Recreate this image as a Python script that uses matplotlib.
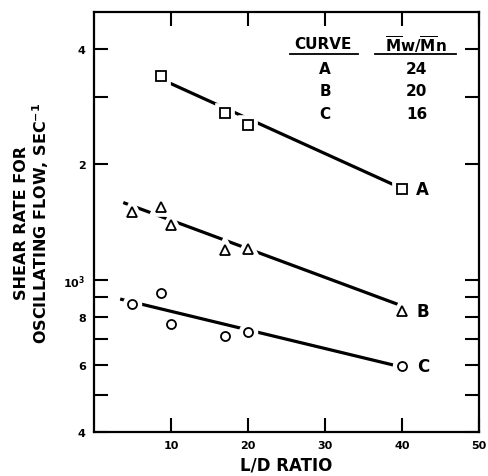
import matplotlib
matplotlib.use('Agg')
import matplotlib.pyplot as plt
from matplotlib.ticker import FixedLocator, FixedFormatter, NullLocator

plt.rcParams['font.family'] = 'DejaVu Sans'
plt.rcParams['font.weight'] = 'bold'
plt.rcParams['mathtext.default'] = 'bf'

# data
ld_a = [8.7, 17, 20, 40]
rate_a = [3400, 2725, 2530, 1724]
ld_b = [5, 8.7, 10, 17, 20, 40]
rate_b = [1500, 1545, 1390, 1198, 1202, 829]
ld_c = [5, 8.7, 10, 17, 20, 40]
rate_c = [865, 922, 768, 711, 731, 594]

# drawn straight lines (endpoints)
fit_a_x = [8.7, 40]
fit_a_y = [3340, 1730]
fit_b_x = [3.8, 40]
fit_b_y = [1590, 854]
fit_c_x = [3.4, 40]
fit_c_y = [890, 591]

curve_names = ['A', 'B', 'C']
mw_mn = ['24', '20', '16']

ytick_vals = [400, 500, 600, 700, 800, 900, 1000, 2000, 3000, 4000]
ytick_labels = ['4', '', '6', '', '8', '', '10$^3$', '2', '', '4']
xtick_vals = [10, 20, 30, 40, 50]

fig = plt.figure(figsize=(4.89, 4.77), dpi=100)
ax = fig.add_axes([0.1922, 0.0922, 0.7874, 0.8805])

series = [(fit_a_x, fit_a_y, ld_a, rate_a, 's'),
          (fit_b_x, fit_b_y, ld_b, rate_b, '^'),
          (fit_c_x, fit_c_y, ld_c, rate_c, 'o')]

for fx, fy, px, py, mk in series:
    ax.plot(fx, fy, color='black', lw=2.3, solid_capstyle='butt', zorder=2)
    # white halo so the line breaks around each symbol
    ax.plot(px, py, linestyle='none', marker=mk, ms=7, mfc='white', mec='white', mew=7, zorder=3)
    ax.plot(px, py, linestyle='none', marker=mk, ms=6.5, mfc='white', mec='black', mew=1.3, zorder=4)

# curve letters next to the last point
for name, py in zip(curve_names, [rate_a[-1], rate_b[-1], rate_c[-1]]):
    ax.text(42.7, py, name, fontsize=12, fontweight='bold', ha='center', va='center')

ax.set_yscale('log')
ax.set_xlim(0, 50)
ax.set_ylim(400, 5000)

ax.yaxis.set_major_locator(FixedLocator(ytick_vals))
ax.yaxis.set_major_formatter(FixedFormatter(ytick_labels))
ax.yaxis.set_minor_locator(NullLocator())
ax.set_xticks(xtick_vals)
ax.set_xticklabels([str(v) for v in xtick_vals])

ax.tick_params(which='both', direction='in', top=True, right=True, length=10, width=1.5, labelsize=8, pad=6)
for lab in ax.get_xticklabels() + ax.get_yticklabels():
    lab.set_fontweight('bold')
for sp in ax.spines.values():
    sp.set_linewidth(1.6)

ax.set_xlabel('L/D RATIO', fontsize=12, fontweight='bold', labelpad=4)
ax.set_ylabel('SHEAR RATE FOR\nOSCILLATING FLOW, SEC$^{-1}$', fontsize=11.5, fontweight='bold',
              labelpad=9, linespacing=1.05)

# small table in the upper right
ax.text(0.595, 0.925, 'CURVE', transform=ax.transAxes, fontsize=11, fontweight='bold', ha='center', va='center')
ax.text(0.835, 0.925, r'$\overline{M}w/\overline{M}n$', transform=ax.transAxes, fontsize=11,
        ha='center', va='center')
ax.plot([0.51, 0.685], [0.9, 0.9], transform=ax.transAxes, color='black', lw=1.3)
ax.plot([0.73, 0.94], [0.9, 0.9], transform=ax.transAxes, color='black', lw=1.3)
for i, (name, val) in enumerate(zip(curve_names, mw_mn)):
    yy = 0.866 - i * 0.054
    ax.text(0.6, yy, name, transform=ax.transAxes, fontsize=11, fontweight='bold', ha='center', va='center')
    ax.text(0.838, yy, val, transform=ax.transAxes, fontsize=11, fontweight='bold', ha='center', va='center')

fig.savefig('out.png', dpi=100)
